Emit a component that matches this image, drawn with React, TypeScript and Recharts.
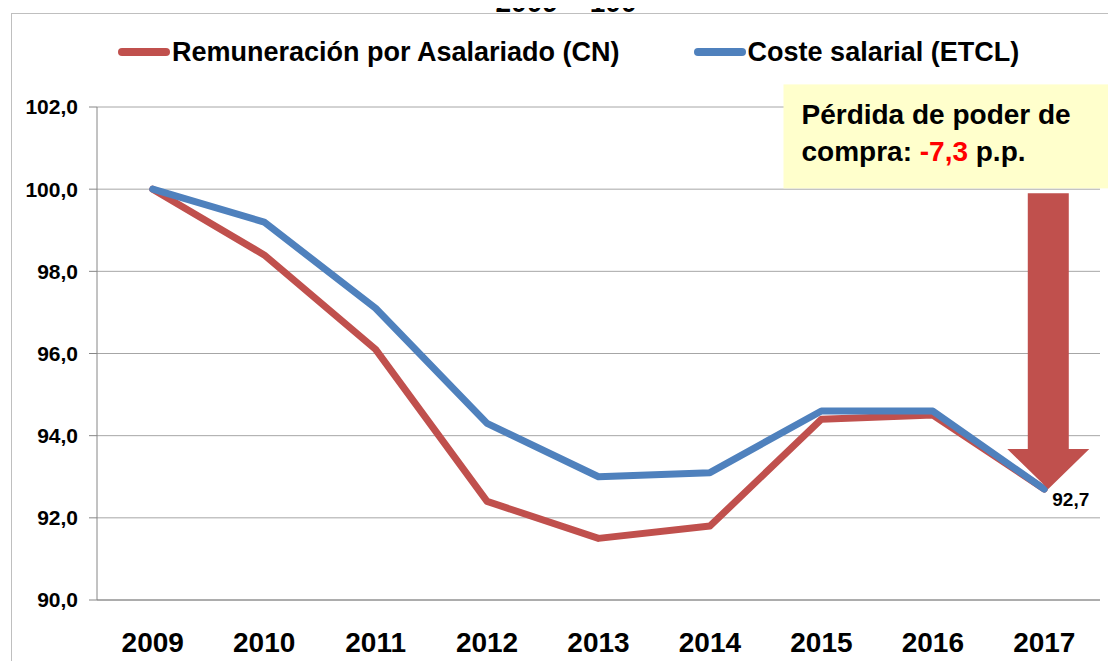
import React from 'react';
import {
  LineChart,
  Line,
  XAxis,
  YAxis,
  CartesianGrid,
  Legend,
  LabelList,
  ReferenceLine,
  ReferenceArea,
} from 'recharts';

// ---- Data ----
const years = [2009, 2010, 2011, 2012, 2013, 2014, 2015, 2016, 2017];
const remuneracion = [100, 98.4, 96.1, 92.4, 91.5, 91.8, 94.4, 94.5, 92.7];
const costeSalarial = [100, 99.2, 97.1, 94.3, 93.0, 93.1, 94.6, 94.6, 92.7];
const yTicks = [90, 92, 94, 96, 98, 100, 102];
const boundaryTicks = [2008.5, 2009.5, 2010.5, 2011.5, 2012.5, 2013.5, 2014.5, 2015.5, 2016.5, 2017.5];
const seriesNames = ['Remuneración por Asalariado (CN)', 'Coste salarial (ETCL)'];
const titleText = '2009 = 100';
const boxLine1 = 'Pérdida de poder de';
const boxLine2Start = 'compra: ';
const boxLoss = '-7,3';
const boxLine2End = ' p.p.';
const arrowTop = 99.9;
const boxX = [2014.66, 2017.7];
const boxY = [100.02, 102.55];

const data = years.map((year, i) => ({
  year,
  remuneracion: remuneracion[i],
  coste: costeSalarial[i],
}));

const RED = '#C0504D';
const BLUE = '#4F81BD';
const seriesColors = [RED, BLUE];
const GRID = '#A6A6A6';
const AXIS = '#868686';
const FONT = '"Liberation Sans", Arial, sans-serif';

const fmt = (v: number) => v.toFixed(1).replace('.', ',');

const renderLegend = () => {
  return (
    <div
      style={{
        display: 'flex',
        alignItems: 'center',
        height: 40,
        paddingLeft: 118,
        fontFamily: FONT,
      }}
    >
      {seriesNames.map((name, i) => (
        <div
          key={name}
          style={{ display: 'flex', alignItems: 'center', marginRight: i === 0 ? 74 : 0 }}
        >
          <div
            style={{
              width: 52,
              height: 8,
              borderRadius: 4,
              background: seriesColors[i],
              marginRight: 2,
            }}
          />
          <span style={{ fontSize: 27, fontWeight: 'bold', color: '#000', lineHeight: '40px' }}>
            {name}
          </span>
        </div>
      ))}
    </div>
  );
};

const ArrowShape = (props: any) => {
  const { x1, y1, y2 } = props;
  if (x1 == null || y1 == null || y2 == null) return null;
  const cx = x1 + 4;
  const headH = 40;
  const headHalf = 41;
  const shaftHalf = 20.5;
  const hy = y2 - headH;
  const points = [
    [cx - shaftHalf, y1],
    [cx + shaftHalf, y1],
    [cx + shaftHalf, hy],
    [cx + headHalf, hy],
    [cx, y2],
    [cx - headHalf, hy],
    [cx - shaftHalf, hy],
  ]
    .map((p) => p.join(','))
    .join(' ');
  return <polygon points={points} fill={RED} stroke="none" />;
};

const BoxShape = (props: any) => {
  const { x, y, width, height } = props;
  if (x == null || y == null) return null;
  return (
    <g>
      <rect x={x} y={y} width={width} height={height} fill="#FFFFCC" stroke="none" />
      <text x={x + 18} y={y + 40} fontSize={28} fontWeight="bold" fill="#000" fontFamily={FONT}>
        {boxLine1}
      </text>
      <text x={x + 18} y={y + 77} fontSize={28} fontWeight="bold" fill="#000" fontFamily={FONT}>
        {boxLine2Start}
        <tspan fill="#FF0000">{boxLoss}</tspan>
        {boxLine2End}
      </text>
    </g>
  );
};

const EndLabel = (props: any) => {
  const { x, y, value, index } = props;
  if (index !== years.length - 1 || x == null || y == null) return null;
  return (
    <text x={x + 8} y={y + 17} fontSize={19} fontWeight="bold" fill="#000" fontFamily={FONT}>
      {fmt(Number(value))}
    </text>
  );
};

export default function App() {
  return (
    <div
      style={{
        position: 'relative',
        width: 1116,
        height: 669,
        margin: -8,
        overflow: 'hidden',
        background: '#fff',
        fontFamily: FONT,
      }}
    >
      <div
        style={{
          position: 'absolute',
          left: 11,
          top: 13,
          width: 1200,
          height: 800,
          border: '1.5px solid #BFBFBF',
          boxSizing: 'border-box',
        }}
      />
      <LineChart
        width={1116}
        height={669}
        data={data}
        margin={{ top: 67, right: 16, bottom: 11, left: 0 }}
      >
        <CartesianGrid xAxisId="main" vertical={false} stroke={GRID} />
        <XAxis
          xAxisId="bounds"
          dataKey="year"
          type="number"
          domain={[2008.5, 2017.5]}
          ticks={boundaryTicks}
          interval={0}
          tick={false}
          tickSize={7}
          tickLine={{ stroke: AXIS }}
          axisLine={{ stroke: AXIS }}
          height={8}
          allowDataOverflow
        />
        <XAxis
          xAxisId="main"
          dataKey="year"
          type="number"
          domain={[2008.5, 2017.5]}
          ticks={years}
          interval={0}
          tickLine={false}
          axisLine={false}
          tickSize={0}
          tickMargin={24}
          height={50}
          tick={{ fill: '#000', fontSize: 28, fontWeight: 'bold' }}
          allowDataOverflow
        />
        <YAxis
          width={97}
          domain={[90, 102]}
          ticks={yTicks}
          interval={0}
          tickFormatter={fmt}
          tickSize={8}
          tickMargin={11}
          tickLine={{ stroke: AXIS }}
          axisLine={{ stroke: AXIS }}
          tick={{ fill: '#000', fontSize: 21, fontWeight: 'bold' }}
          allowDataOverflow
        />
        <Legend
          verticalAlign="top"
          align="left"
          content={renderLegend}
          wrapperStyle={{ top: 32, left: 0, width: 1116, height: 40 }}
        />
        <ReferenceArea
          xAxisId="main"
          x1={boxX[0]}
          x2={boxX[1]}
          y1={boxY[0]}
          y2={boxY[1]}
          ifOverflow="visible"
          shape={BoxShape}
        />
        <Line
          xAxisId="main"
          dataKey="remuneracion"
          name={seriesNames[0]}
          stroke={RED}
          strokeWidth={7}
          dot={false}
          activeDot={false}
          strokeLinejoin="round"
          strokeLinecap="round"
          isAnimationActive={false}
        />
        <Line
          xAxisId="main"
          dataKey="coste"
          name={seriesNames[1]}
          stroke={BLUE}
          strokeWidth={7}
          dot={false}
          activeDot={false}
          strokeLinejoin="round"
          strokeLinecap="round"
          isAnimationActive={false}
        >
          <LabelList dataKey="coste" content={EndLabel} />
        </Line>
        <ReferenceLine
          xAxisId="main"
          segment={[
            { x: years[years.length - 1], y: arrowTop },
            { x: years[years.length - 1], y: costeSalarial[costeSalarial.length - 1] },
          ]}
          ifOverflow="visible"
          shape={ArrowShape}
        />
      </LineChart>
      <div
        style={{
          position: 'absolute',
          left: 8,
          top: -11,
          width: 1116,
          textAlign: 'center',
          fontSize: 28,
          lineHeight: '28px',
          fontWeight: 'bold',
          color: '#000',
          zIndex: 5,
        }}
      >
        {titleText}
      </div>
    </div>
  );
}
